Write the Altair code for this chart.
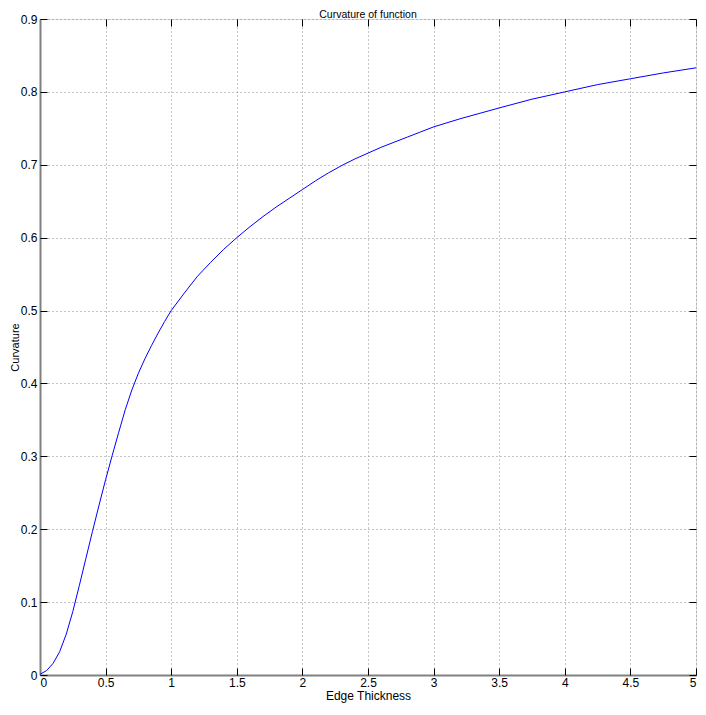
import altair as alt
import pandas as pd

# Values
thickness = [0.0, 0.05, 0.1, 0.15, 0.2, 0.25, 0.3, 0.35, 0.4, 0.45, 0.5, 0.55, 0.6,
             0.65, 0.7, 0.75, 0.8, 0.85, 0.9, 0.95, 1.0, 1.1, 1.2, 1.3, 1.4, 1.5,
             1.6, 1.7, 1.8, 1.9, 2.0, 2.1, 2.2, 2.3, 2.4, 2.5, 2.6, 2.7, 2.8, 2.9,
             3.0, 3.2, 3.5, 3.75, 4.0, 4.25, 4.5, 4.75, 5.0]
curvature = [0.001, 0.006, 0.016, 0.032, 0.056, 0.087, 0.123, 0.160, 0.197, 0.233, 0.268,
             0.301, 0.333, 0.364, 0.391, 0.414, 0.434, 0.452, 0.469, 0.485, 0.500,
             0.524, 0.547, 0.566, 0.584, 0.600, 0.615, 0.629, 0.642, 0.654, 0.666,
             0.678, 0.689, 0.699, 0.708, 0.716, 0.724, 0.731, 0.738, 0.745, 0.752,
             0.763, 0.778, 0.790, 0.800, 0.810, 0.818, 0.826, 0.833]

x_ticks = [0, 0.5, 1, 1.5, 2, 2.5, 3, 3.5, 4, 4.5, 5]
y_ticks = [0, 0.1, 0.2, 0.3, 0.4, 0.5, 0.6, 0.7, 0.8, 0.9]

df = pd.DataFrame({"thickness": thickness, "curvature": curvature})

W, H = 656, 656
TOP = 11
FONT = "Liberation Sans"
xscale = alt.Scale(domain=[0, 5], nice=False, zero=False)
yscale = alt.Scale(domain=[0, 0.9], nice=False, zero=False)

main = alt.Chart(df).mark_line(color="#0000ff", strokeWidth=1).encode(
    x=alt.X("thickness:Q", scale=xscale, title="Edge Thickness",
            axis=alt.Axis(orient="bottom", values=x_ticks, format="~g",
                          domainColor="#808080", domainWidth=2, ticks=False,
                          grid=True, gridColor="#8c8c8c", gridDash=[1, 3], gridWidth=1,
                          labelFont=FONT, labelFontSize=12, labelColor="black",
                          labelPadding=2, titleFont=FONT, titleFontSize=12,
                          titleFontWeight="normal", titleColor="black", titlePadding=2)),
    y=alt.Y("curvature:Q", scale=yscale, title="Curvature",
            axis=alt.Axis(orient="left", values=y_ticks, format="~g",
                          domainColor="#808080", domainWidth=2, ticks=False,
                          grid=True, gridColor="#8c8c8c", gridDash=[1, 3], gridWidth=1,
                          labelFont=FONT, labelFontSize=12, labelColor="black",
                          labelPadding=3, titleFont=FONT, titleFontSize=11,
                          titleFontWeight="normal", titleColor="black", titlePadding=0)),
)

# inward ticks at bottom (top-oriented axis moved down) and left (right-oriented axis moved left)
ticks_a = alt.Chart(df).mark_line(opacity=0).encode(
    x=alt.X("thickness:Q", scale=xscale, title=None,
            axis=alt.Axis(orient="top", offset=-H, values=x_ticks, labels=False,
                          domain=False, grid=False, ticks=True, tickSize=7,
                          tickColor="black", tickWidth=1)),
    y=alt.Y("curvature:Q", scale=yscale, title=None,
            axis=alt.Axis(orient="right", offset=-W, values=y_ticks, labels=False,
                          domain=False, grid=False, ticks=True, tickSize=7,
                          tickColor="black", tickWidth=1)),
)

# inward ticks at top and right
ticks_b = alt.Chart(df).mark_line(opacity=0).encode(
    x=alt.X("thickness:Q", scale=xscale, title=None,
            axis=alt.Axis(orient="bottom", offset=-H, values=x_ticks, labels=False,
                          domain=False, grid=False, ticks=True, tickSize=7,
                          tickColor="black", tickWidth=1)),
    y=alt.Y("curvature:Q", scale=yscale, title=None,
            axis=alt.Axis(orient="left", offset=-W, values=y_ticks, labels=False,
                          domain=False, grid=False, ticks=True, tickSize=7,
                          tickColor="black", tickWidth=1)),
)

chart = alt.layer(main, ticks_a, ticks_b).resolve_axis(
    x="independent", y="independent"
).properties(
    width=W, height=H,
    title=alt.TitleParams("Curvature of function", font=FONT, fontSize=10.5,
                          fontWeight="normal", color="black", offset=0, dy=7.5,
                          baseline="top", anchor="middle"),
    autosize=alt.AutoSizeParams(type="none"),
    padding={"left": 32, "top": TOP, "right": 2, "bottom": 28},
).configure_view(stroke="black", strokeWidth=1).configure(background="white")

chart.save("out.html", embed_options={"renderer": "svg", "actions": False})
